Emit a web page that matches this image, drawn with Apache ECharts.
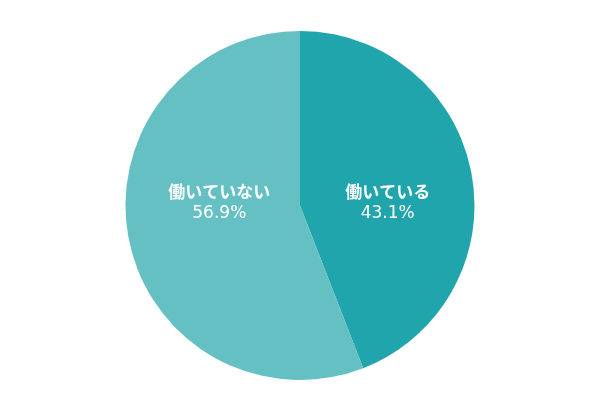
<!DOCTYPE html>
<html>
<head>
<meta charset="utf-8">
<script src="https://cdn.jsdelivr.net/npm/echarts@6/dist/echarts.min.js"></script>
<style>
  html, body { margin: 0; padding: 0; background: #fff; }
  #chart { width: 600px; height: 411px; }
</style>
</head>
<body>
<div id="chart"></div>
<script>
const categories = ["働いている", "働いていない"];
// slice sizes as drawn in the picture (the boundary sits a bit past 43.1%)
const values = [44.1, 55.9];
const percentLabels = ["43.1%", "56.9%"];
const colors = ["#1fa5ab", "#64c0c3"];
// labels sit level with each other, nudge them off the slice midpoint
const labelOffsets = [[-1, 14], [8, -20]];

const chart = echarts.init(document.getElementById("chart"), null, { renderer: "canvas" });

chart.setOption({
  backgroundColor: "#ffffff",
  animation: false,
  series: [
    {
      type: "pie",
      center: [300, 205.5],
      radius: [0, 174.5],
      startAngle: 90,
      clockwise: true,
      silent: true,
      itemStyle: { borderWidth: 0 },
      label: {
        show: true,
        position: "inside",
        color: "#ffffff",
        formatter: (p) => `{name|${p.name}}\n{val|${percentLabels[p.dataIndex]}}`,
        rich: {
          name: {
            fontSize: 17,
            fontWeight: "bold",
            color: "#ffffff",
            lineHeight: 22,
            fontFamily: "'Noto Sans CJK JP', sans-serif"
          },
          val: {
            fontSize: 17,
            color: "#ffffff",
            lineHeight: 22,
            fontFamily: "'DejaVu Sans', sans-serif"
          }
        }
      },
      labelLine: { show: false },
      data: categories.map((name, i) => ({
        name,
        value: values[i],
        itemStyle: { color: colors[i] },
        label: { offset: labelOffsets[i] }
      }))
    }
  ]
});
</script>
</body>
</html>
